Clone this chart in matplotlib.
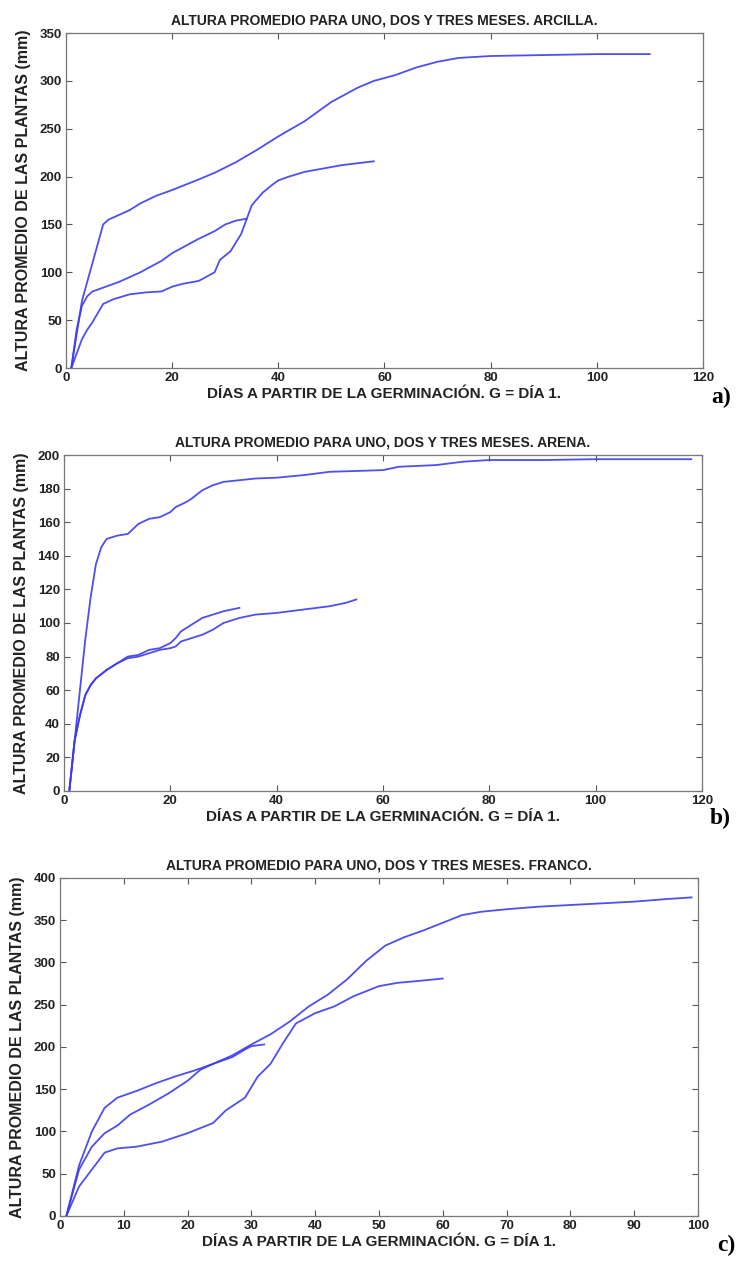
import matplotlib
matplotlib.use("Agg")
import matplotlib.pyplot as plt

# ---- ARCILLA ----
arc_x1 = [1, 3, 5, 7, 8, 10, 12, 14, 17, 20, 25, 28, 32, 36, 40, 45, 50, 55, 58, 62, 66, 70, 74, 80, 90, 100, 110]
arc_y1 = [0, 70, 110, 150, 155, 160, 165, 172, 180, 186, 197, 204, 215, 228, 242, 258, 278, 293, 300, 306, 314, 320, 324, 326, 327, 328, 328]
arc_x2 = [1, 2, 3, 4, 5, 7, 10, 14, 18, 20, 22, 25, 28, 30, 32, 34]
arc_y2 = [0, 40, 65, 75, 80, 84, 90, 100, 112, 120, 126, 135, 143, 150, 154, 156]
arc_x3 = [1, 3, 4, 5, 7, 9, 12, 15, 18, 20, 22, 25, 27, 28, 29, 31, 33, 34, 35, 37, 39, 40, 42, 45, 48, 52, 55, 58]
arc_y3 = [0, 30, 40, 48, 67, 72, 77, 79, 80, 85, 88, 91, 97, 100, 113, 122, 140, 155, 170, 183, 192, 196, 200, 205, 208, 212, 214, 216]

# ---- ARENA ----
are_x1 = [1, 2, 3, 4, 5, 6, 7, 8, 9, 10, 12, 14, 16, 18, 20, 21, 23, 24, 26, 28, 30, 33, 36, 40, 45, 50, 55, 60, 63, 70, 75, 80, 90, 100, 110, 118]
are_y1 = [0, 30, 60, 90, 115, 135, 145, 150, 151, 152, 153, 159, 162, 163, 166, 169, 172, 174, 179, 182, 184, 185, 186, 186.5, 188, 190, 190.5, 191, 193, 194, 196, 197, 197, 197.5, 197.5, 197.5]
are_x2 = [1, 2, 3, 4, 5, 6, 8, 10, 12, 14, 16, 18, 20, 21, 22, 24, 26, 28, 30, 33]
are_y2 = [0, 30, 45, 57, 63, 67, 72, 76, 80, 81, 84, 85, 88, 91, 95, 99, 103, 105, 107, 109]
are_x3 = [1, 2, 3, 4, 5, 6, 8, 10, 12, 14, 16, 18, 20, 21, 22, 24, 26, 28, 30, 33, 36, 40, 45, 50, 53, 55]
are_y3 = [0, 30, 45, 57, 63, 67, 72, 76, 79, 80, 82, 84, 85, 86, 89, 91, 93, 96, 100, 103, 105, 106, 108, 110, 112, 114]

# ---- FRANCO ----
fra_x1 = [1, 3, 5, 7, 9, 12, 15, 18, 21, 24, 27, 30, 33, 36, 39, 42, 45, 48, 51, 54, 57, 60, 63, 66, 70, 75, 80, 85, 90, 95, 99]
fra_y1 = [0, 60, 100, 128, 140, 148, 157, 165, 172, 180, 190, 203, 215, 230, 248, 262, 280, 302, 320, 330, 338, 347, 356, 360, 363, 366, 368, 370, 372, 375, 377]
fra_x2 = [1, 3, 5, 7, 9, 11, 14, 17, 20, 22, 24, 27, 29, 30, 32]
fra_y2 = [0, 55, 82, 98, 107, 120, 132, 145, 160, 173, 180, 188, 197, 201, 203]
fra_x3 = [1, 3, 5, 7, 9, 12, 16, 20, 24, 26, 29, 31, 33, 35, 37, 40, 43, 46, 50, 53, 56, 60]
fra_y3 = [0, 35, 55, 75, 80, 82, 88, 98, 110, 125, 140, 165, 180, 205, 228, 240, 248, 260, 272, 276, 278, 281]

titles = [
    "ALTURA PROMEDIO PARA UNO, DOS Y TRES MESES. ARCILLA.",
    "ALTURA PROMEDIO PARA UNO, DOS Y TRES MESES. ARENA.",
    "ALTURA PROMEDIO PARA UNO, DOS Y TRES MESES. FRANCO.",
]
xlabel = "DÍAS A PARTIR DE LA GERMINACIÓN. G = DÍA 1."
ylabel = "ALTURA PROMEDIO DE LAS PLANTAS (mm)"
panel_tags = ["a)", "b)", "c)"]

LINE = "#3b3bf0"
FONT = ["Liberation Sans Narrow", "Liberation Sans", "DejaVu Sans"]

fig = plt.figure(figsize=(7.44, 12.66), dpi=100)

specs = [
    dict(rect=[0.0887, 0.7093, 0.856, 0.2646], xlim=(0, 120), ylim=(0, 350),
         xt=range(0, 121, 20), yt=range(0, 351, 50),
         series=[(arc_x1, arc_y1), (arc_x2, arc_y2), (arc_x3, arc_y3)],
         tag=(0.982, 0.678)),
    dict(rect=[0.086, 0.3752, 0.8575, 0.2654], xlim=(0, 120), ylim=(0, 200),
         xt=range(0, 121, 20), yt=range(0, 201, 20),
         series=[(are_x1, are_y1), (are_x2, are_y2), (are_x3, are_y3)],
         tag=(0.982, 0.345)),
    dict(rect=[0.0806, 0.0395, 0.8575, 0.267], xlim=(0, 100), ylim=(0, 400),
         xt=range(0, 101, 10), yt=range(0, 401, 50),
         series=[(fra_x1, fra_y1), (fra_x2, fra_y2), (fra_x3, fra_y3)],
         tag=(0.988, 0.008)),
]

for i, s in enumerate(specs):
    ax = fig.add_axes(s["rect"])
    for x, y in s["series"]:
        ax.plot(x, y, color=LINE, lw=1.3, alpha=0.9)
    ax.set_xlim(*s["xlim"])
    ax.set_ylim(*s["ylim"])
    ax.set_xticks(list(s["xt"]))
    ax.set_yticks(list(s["yt"]))
    ax.tick_params(direction="in", length=4, width=0.8, color="#555555",
                   top=True, right=True, labelsize=9.5, pad=3,
                   labelcolor="#222222")
    for lab in ax.get_xticklabels() + ax.get_yticklabels():
        lab.set_family(FONT)
        lab.set_fontweight("bold")
    for sp in ax.spines.values():
        sp.set_color("#777777")
        sp.set_linewidth(0.9)
    ax.set_title(titles[i], fontsize=10, fontweight="bold", family=FONT,
                 color="#222222", pad=6)
    ax.set_xlabel(xlabel, fontsize=11, fontweight="bold", family=FONT,
                  color="#222222", labelpad=2)
    ax.set_ylabel(ylabel, fontsize=11.5, fontweight="bold", family=FONT,
                  color="#222222", labelpad=6)
    fig.text(s["tag"][0], s["tag"][1], panel_tags[i], fontsize=17,
             fontweight="bold", family="Liberation Serif", ha="right",
             va="bottom", color="black")

fig.savefig("out.png", dpi=100)
